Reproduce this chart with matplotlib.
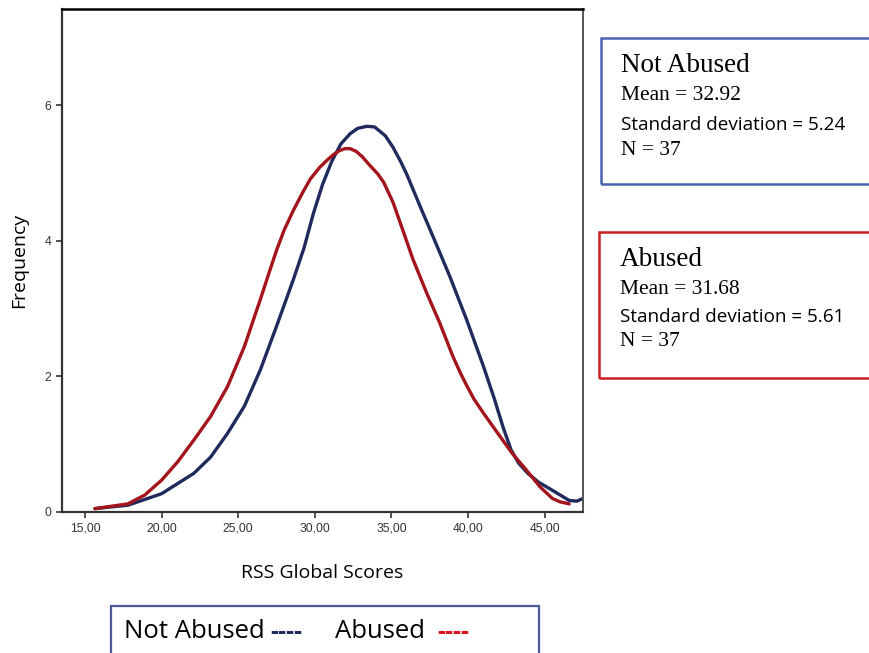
import matplotlib
matplotlib.use("Agg")
import matplotlib.pyplot as plt
from matplotlib.patches import Rectangle

# values (RSS global score vs. frequency)
not_abused_x = [15.65, 17.8, 20.0, 22.1, 23.2, 24.3, 25.4, 26.45, 27.5, 28.6, 29.3, 29.9,
                30.5, 31.1, 31.7, 32.3, 32.8, 33.4, 33.9, 34.6, 35.1, 35.6, 36.0, 36.85,
                37.7, 38.8, 39.9, 41.0, 41.7, 42.3, 42.8, 43.3, 43.9, 44.6, 45.5, 46.6,
                47.1, 47.5]
not_abused_y = [0.05, 0.1, 0.27, 0.57, 0.81, 1.16, 1.56, 2.1, 2.74, 3.43, 3.9, 4.4,
                4.83, 5.17, 5.43, 5.58, 5.66, 5.69, 5.68, 5.55, 5.38, 5.17, 4.98, 4.52,
                4.07, 3.48, 2.84, 2.15, 1.68, 1.24, 0.92, 0.72, 0.57, 0.44, 0.32, 0.17,
                0.16, 0.2]

abused_x = [15.65, 17.8, 18.9, 20.0, 21.05, 22.1, 23.2, 24.3, 25.4, 26.45, 27.0,
            27.5, 28.0, 28.6, 29.2, 29.7, 30.3, 30.8, 31.2, 31.6, 31.96, 32.3, 32.7,
            33.1, 33.6, 34.1, 34.5, 35.1, 35.8, 36.4, 37.3, 38.15, 39.0, 39.5, 39.9,
            40.4, 41.0, 42.1, 42.9, 43.8, 44.7, 45.5, 46.0, 46.6]
abused_y = [0.05, 0.12, 0.25, 0.47, 0.74, 1.06, 1.41, 1.85, 2.44, 3.14, 3.52,
            3.86, 4.16, 4.45, 4.71, 4.91, 5.08, 5.19, 5.27, 5.33, 5.36, 5.36, 5.32,
            5.24, 5.11, 4.99, 4.86, 4.57, 4.12, 3.73, 3.23, 2.79, 2.30, 2.05, 1.87,
            1.66, 1.46, 1.11, 0.86, 0.62, 0.37, 0.2, 0.15, 0.12]

x_ticks = [15, 20, 25, 30, 35, 40, 45]
x_tick_labels = ["15,00", "20,00", "25,00", "30,00", "35,00", "40,00", "45,00"]
y_ticks = [0, 2, 4, 6]
y_tick_labels = ["0", "2", "4", "6"]

groups = ["Not Abused", "Abused"]
means = ["32.92", "31.68"]
sds = ["5.24", "5.61"]
ns = ["37", "37"]

navy = "#1f2b5c"
red = "#a3141c"

W, H = 869, 653
fig = plt.figure(figsize=(W / 100, H / 100), dpi=100)
ax = fig.add_axes([62 / W, 1 - 512 / H, (583 - 62) / W, (512 - 9) / H])

ax.plot(not_abused_x, not_abused_y, color=navy, lw=2.4, solid_capstyle="round",
        solid_joinstyle="round")
ax.plot(abused_x, abused_y, color=red, lw=2.4, solid_capstyle="round",
        solid_joinstyle="round")

ax.set_xlim(13.5, 47.5)
ax.set_ylim(0, 7.42)
ax.set_xticks(x_ticks)
ax.set_xticklabels(x_tick_labels)
ax.set_yticks(y_ticks)
ax.set_yticklabels(y_tick_labels)
ax.tick_params(axis="both", direction="out", length=4, width=1.2, color="#333333",
               labelsize=8.7, labelcolor="#333333")
for lab in ax.get_xticklabels() + ax.get_yticklabels():
    lab.set_family("Liberation Sans")

ax.spines["left"].set_color("#333333")
ax.spines["left"].set_linewidth(1.6)
ax.spines["bottom"].set_color("#333333")
ax.spines["bottom"].set_linewidth(1.6)
ax.spines["top"].set_color("black")
ax.spines["top"].set_linewidth(1.8)
ax.spines["right"].set_color("#555555")
ax.spines["right"].set_linewidth(1.4)

ax.set_xlabel("RSS Global Scores", fontsize=14, family="Open Sans", labelpad=21)
ax.set_ylabel("Frequency", fontsize=14, family="Open Sans", labelpad=12)


def px(x, y):
    return x / W, 1 - y / H


# stats boxes on the right
box_tops = [38, 232]
box_colors = ["#4a62b0", "#cc1f24"]
for i, g in enumerate(groups):
    top = box_tops[i]
    x0, y0 = px(601 - 2 * i, top + 146)
    fig.add_artist(Rectangle((x0, y0), 300 / W, 146 / H, transform=fig.transFigure,
                             fill=False, edgecolor=box_colors[i], lw=1.8, clip_on=False))
    tx = 621 - i
    fig.text(*px(tx, top + 28), g, fontsize=19.5, family="Liberation Serif", va="center")
    fig.text(*px(tx, top + 57), "Mean = " + means[i], fontsize=15.5,
             family="Liberation Serif", va="center")
    fig.text(*px(tx, top + 87 - 2 * i), "Standard deviation = " + sds[i], fontsize=13.6,
             family="Open Sans", va="center")
    fig.text(*px(tx, top + 113 - 3 * i), "N = " + ns[i], fontsize=15.5,
             family="Liberation Serif", va="center")

# legend box at the bottom
lx0, ly0 = px(111, 680)
fig.add_artist(Rectangle((lx0, ly0), (539 - 111) / W, (680 - 606) / H,
                         transform=fig.transFigure, fill=False, edgecolor="#4a5a9a",
                         lw=1.6, clip_on=False))
fig.text(*px(124, 632), groups[0], fontsize=18.5, family="Open Sans", va="center")
fig.text(*px(270, 632), "----", fontsize=18, family="Open Sans", va="center",
         color=navy, fontweight="bold")
fig.text(*px(335, 632), groups[1], fontsize=18.5, family="Open Sans", va="center")
fig.text(*px(437, 632), "----", fontsize=18, family="Open Sans", va="center",
         color="#e0141c", fontweight="bold")

fig.savefig("out.png", dpi=100)
